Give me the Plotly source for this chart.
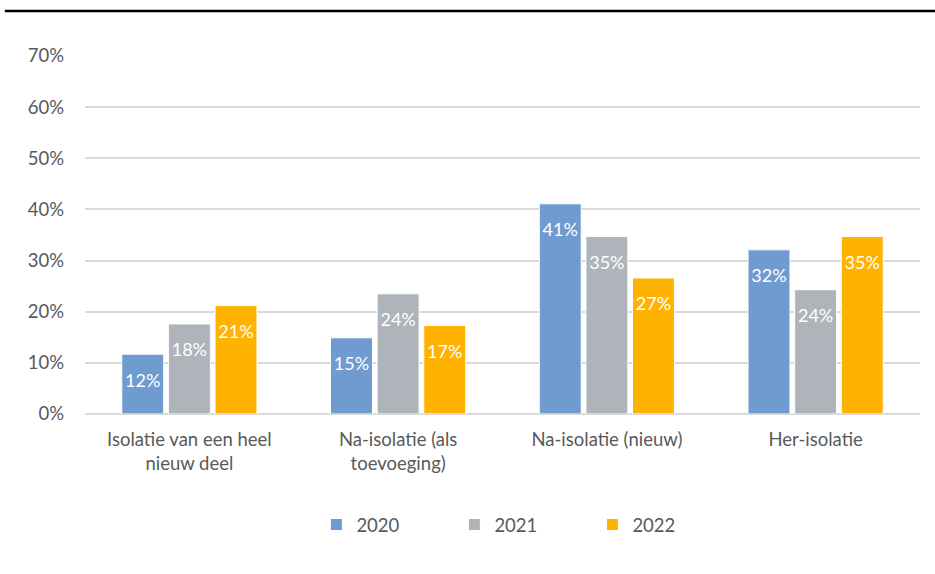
import plotly.graph_objects as go

categories = ["Isolatie van een heel<br>nieuw deel", "Na-isolatie (als<br>toevoeging)",
              "Na-isolatie (nieuw)", "Her-isolatie"]
years = ["2020", "2021", "2022"]
values_2020 = [0.117, 0.149, 0.411, 0.321]
values_2021 = [0.176, 0.235, 0.347, 0.243]
values_2022 = [0.212, 0.173, 0.266, 0.347]
colors = ["#6F9BD1", "#AEB4BA", "#FFB300"]

font = "Lato, 'Open Sans', sans-serif"
fsize = 18.5

fig = go.Figure()
for name, vals, col in zip(years, [values_2020, values_2021, values_2022], colors):
    fig.add_trace(go.Bar(
        x=categories, y=vals, name=name,
        marker=dict(color=col, line=dict(color="white", width=1)),
        # blank first line pushes the label a bit down from the bar top
        texttemplate="<span style='font-size:6px'> </span><br>%{y:.0%}",
        textposition="inside", insidetextanchor="end",
        textfont=dict(color="white", size=18, family=font),
        textangle=0, cliponaxis=False,
    ))

fig.update_layout(
    width=935, height=574,
    margin=dict(l=85, r=15, t=56, b=160),
    paper_bgcolor="white", plot_bgcolor="white",
    barmode="group", bargap=0.33, bargroupgap=0.1,
    font=dict(family=font, size=fsize, color="#595959"),
    uniformtext=dict(minsize=18, mode="show"),
    yaxis=dict(range=[0, 0.7], dtick=0.1, tickformat=".0%", showgrid=True,
               gridcolor="#D9D9D9", gridwidth=1.5, zeroline=True,
               zerolinecolor="#D9D9D9", zerolinewidth=1.5,
               ticks="", ticklabelstandoff=20, automargin=False, fixedrange=True),
    xaxis=dict(showline=False, ticks="", tickfont=dict(size=fsize), automargin=False,
               ticklabelstandoff=12, fixedrange=True),
    legend=dict(orientation="h", x=0.525, xanchor="center", y=-0.31, yanchor="middle",
                font=dict(size=fsize), itemwidth=30, traceorder="normal",
                entrywidth=93),
    shapes=[dict(type="line", xref="paper", yref="paper",
                 x0=-0.096, x1=1.02, y0=1.126, y1=1.126,
                 line=dict(color="black", width=2.5))],
)

# page body has a default 8px margin; drop it so the figure sits at (0, 0)
fig.write_html("out.html", config={"displayModeBar": False},
               post_script="document.body.style.margin='0';")
